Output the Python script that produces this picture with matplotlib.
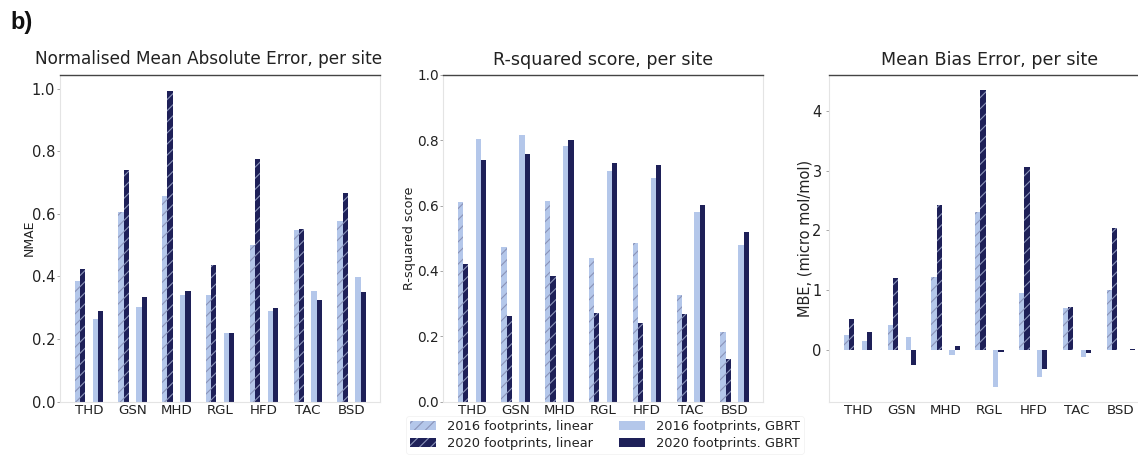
import numpy as np
import matplotlib
matplotlib.use("Agg")
import matplotlib.pyplot as plt

# Site codes shown along each x axis
sites = ["THD", "GSN", "MHD", "RGL", "HFD", "TAC", "BSD"]

# Normalised mean absolute error per site
nmae_lin_2016 = [0.384, 0.605, 0.656, 0.340, 0.500, 0.550, 0.576]
nmae_lin_2020 = [0.424, 0.740, 0.995, 0.437, 0.777, 0.553, 0.668]
nmae_gbrt_2016 = [0.263, 0.302, 0.340, 0.219, 0.291, 0.354, 0.399]
nmae_gbrt_2020 = [0.288, 0.334, 0.352, 0.219, 0.300, 0.326, 0.349]

# R-squared score per site
r2_lin_2016 = [0.610, 0.473, 0.613, 0.440, 0.486, 0.327, 0.212]
r2_lin_2020 = [0.422, 0.261, 0.384, 0.272, 0.241, 0.268, 0.130]
r2_gbrt_2016 = [0.805, 0.817, 0.783, 0.705, 0.685, 0.580, 0.480]
r2_gbrt_2020 = [0.740, 0.758, 0.801, 0.732, 0.723, 0.602, 0.520]

# Mean bias error per site (micro mol/mol)
mbe_lin_2016 = [0.25, 0.42, 1.22, 2.316, 0.957, 0.705, 1.007]
mbe_lin_2020 = [0.52, 1.197, 2.428, 4.352, 3.066, 0.716, 2.042]
mbe_gbrt_2016 = [0.157, 0.218, -0.09, -0.615, -0.448, -0.112, 0.004]
mbe_gbrt_2020 = [0.297, -0.252, 0.067, -0.028, -0.313, -0.06, 0.008]

series_labels = ["2016 footprints, linear", "2020 footprints, linear",
                 "2016 footprints, GBRT", "2020 footprints. GBRT"]

LIGHT = "#b4c7ea"
DARK = "#1e2058"
HATCH_COL = "#8a93b8"
TEXT = "#222222"

plt.rcParams["font.family"] = ["DejaVu Sans"]
plt.rcParams["hatch.linewidth"] = 0.8

fig = plt.figure(figsize=(11.38, 4.55), dpi=100)

W, H = 1138.0, 455.0
top_px, bot_px = 75.0, 401.5
ax_h = (bot_px - top_px) / H
ax_b = 1 - bot_px / H
ax_w = 0.2815
axes = [
    fig.add_axes([60 / W, ax_b, ax_w, ax_h]),
    fig.add_axes([443 / W, ax_b, ax_w, ax_h]),
    fig.add_axes([829.3 / W, ax_b, ax_w, ax_h]),
]

x = np.arange(len(sites))
bw = 0.12
offsets = [-0.265, -0.145, 0.145, 0.265]


def draw_panel(ax, lin16, lin20, gb16, gb20):
    handles = []
    handles.append(ax.bar(x + offsets[0], lin16, bw, color=LIGHT, edgecolor=HATCH_COL,
                          linewidth=0, hatch="///"))
    handles.append(ax.bar(x + offsets[1], lin20, bw, color=DARK, edgecolor=HATCH_COL,
                          linewidth=0, hatch="///"))
    handles.append(ax.bar(x + offsets[2], gb16, bw, color=LIGHT, linewidth=0))
    handles.append(ax.bar(x + offsets[3], gb20, bw, color=DARK, linewidth=0))
    ax.set_xticks(x)
    ax.set_xticklabels(sites, fontsize=9.6, color=TEXT)
    ax.tick_params(axis="x", length=0, pad=2)
    ax.tick_params(axis="y", length=2, width=0.6, color="#999999", labelsize=10.5,
                   labelcolor=TEXT, pad=1.5)
    for side in ("left", "bottom", "right"):
        ax.spines[side].set_color("#e4e4e4")
        ax.spines[side].set_linewidth(0.8)
    ax.spines["top"].set_color("#444444")
    ax.spines["top"].set_linewidth(1.0)
    return handles


h = draw_panel(axes[0], nmae_lin_2016, nmae_lin_2020, nmae_gbrt_2016, nmae_gbrt_2020)
axes[0].set_ylabel("NMAE", fontsize=9, color=TEXT)
axes[0].yaxis.set_label_coords(-0.075, 0.5)
axes[0].set_title("Normalised Mean Absolute Error, per site", fontsize=12.2,
                  color=TEXT, x=0.464, pad=8)

draw_panel(axes[1], r2_lin_2016, r2_lin_2020, r2_gbrt_2016, r2_gbrt_2020)
axes[1].set_ylim(0, 1.0)
axes[1].set_yticks(np.arange(0, 1.01, 0.2))
axes[1].tick_params(axis="y", labelsize=9.8, pad=1)
axes[1].set_ylabel("R-squared score", fontsize=9.2, color=TEXT)
axes[1].yaxis.set_label_coords(-0.083, 0.5)
axes[1].set_title("R-squared score, per site", fontsize=12.6, color=TEXT, pad=7)

draw_panel(axes[2], mbe_lin_2016, mbe_lin_2020, mbe_gbrt_2016, mbe_gbrt_2020)
axes[2].tick_params(axis="y", labelsize=10.5, pad=3.5)
axes[2].set_ylabel("MBE, (micro mol/mol)", fontsize=10.5, color=TEXT)
axes[2].yaxis.set_label_coords(-0.054, 0.5)
axes[2].set_title("Mean Bias Error, per site", fontsize=12.6, color=TEXT, pad=7)

leg = fig.legend(h, series_labels, ncol=2, loc="center",
                 bbox_to_anchor=(605 / W, 1 - 435 / H), fontsize=9.4,
                 frameon=True, labelspacing=0.3, handlelength=2.0,
                 columnspacing=2.0, handletextpad=0.8, borderpad=0.3)
leg.get_frame().set_edgecolor("#f0f0f0")
leg.get_frame().set_linewidth(0.6)
for t in leg.get_texts():
    t.set_color(TEXT)

fig.text(10 / W, 1 - 23 / H, "b)", fontsize=17, fontweight="bold",
         family=["Liberation Sans", "DejaVu Sans"], color="#111111", va="center")

fig.savefig("out.png", dpi=100)
